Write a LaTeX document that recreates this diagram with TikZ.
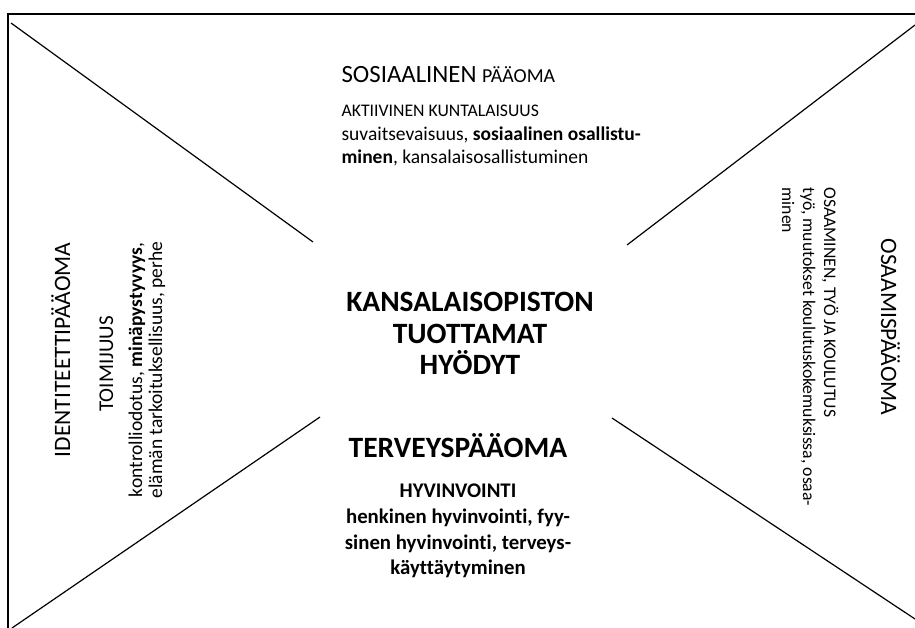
\documentclass[tikz,border=0pt]{standalone}
\usepackage{fontspec}
\setmainfont{Carlito}[Ligatures=NoCommon]
\usetikzlibrary{positioning}

\begin{document}
\begin{tikzpicture}[x=1pt, y=-1pt, line width=1.2pt,
  capital/.style={inner sep=0pt, font=\fontsize{24.8}{29}\selectfont},
  side/.style={inner sep=0pt, font=\fontsize{23.5}{28}\selectfont},
  small/.style={inner sep=0pt, font=\fontsize{17.7}{22}\selectfont},
  body/.style={inner sep=0pt, font=\fontsize{19.5}{23}\selectfont},
  title/.style={inner sep=0pt, font=\fontsize{29.5}{35}\selectfont\bfseries},
  health/.style={inner sep=0pt, font=\fontsize{20.8}{26}\selectfont\bfseries}]

  \useasboundingbox (0,0) rectangle (915,628);

  % frame
  \coordinate (frametr) at (915,14);
  \coordinate (frametl) at (8,14);
  \coordinate (framebl) at (8,628);
  \draw[line width=1.6pt] (frametr) -- (frametl) -- (framebl);

  % the four diagonals
  \coordinate (tlout) at (11,23);
  \coordinate (tlin) at (313,242);
  \coordinate (trout) at (915,25);
  \coordinate (trin) at (627,245);
  \coordinate (blout) at (12,628);
  \coordinate (blin) at (320,417);
  \coordinate (brout) at (915,619);
  \coordinate (brin) at (612,418);
  \draw (tlout) -- (tlin);
  \draw (trout) -- (trin);
  \draw (blout) -- (blin);
  \draw (brout) -- (brin);

  % top: social capital
  \node[capital, anchor=base west] (soshead) at (341,83) {SOSIAALINEN {\fontsize{19.8}{24}\selectfont P\"A\"AOMA}};
  \node[small, below=34pt of soshead.base west, anchor=base west] (aktiivinen) {AKTIIVINEN KUNTALAISUUS};
  \node[body, below=24pt of aktiivinen.base west, anchor=base west] (sosline1) {suvaitsevaisuus, \textbf{sosiaalinen osallistu-}};
  \node[body, below=23pt of sosline1.base west, anchor=base west] (sosline2) {\textbf{minen}, kansalaisosallistuminen};

  % centre
  \node[title, anchor=base] (benefits1) at (470,311) {KANSALAISOPISTON};
  \node[title, below=32pt of benefits1.base, anchor=base] (benefits2) {TUOTTAMAT};
  \node[title, below=31pt of benefits2.base, anchor=base] (benefits3) {HYÖDYT};

  % bottom: health capital
  \node[title, anchor=base] (healthhead) at (458,457) {TERVEYSPÄÄOMA};
  \node[health, below=40pt of healthhead.base, anchor=base] (hyvinvointi) {HYVINVOINTI};
  \node[health, below=26pt of hyvinvointi.base, anchor=base] (healthline1) {henkinen hyvinvointi, fyy-};
  \node[health, below=26pt of healthline1.base, anchor=base] (healthline2) {sinen hyvinvointi, terveys-};
  \node[health, below=25pt of healthline2.base, anchor=base] (healthline3) {käyttäytyminen};

  % left: identity capital
  \node[side, rotate=90, anchor=base] (idhead) at (70,350) {IDENTITEETTIPÄÄOMA};
  \node[inner sep=0pt, font=\fontsize{21}{26}\selectfont, rotate=90, anchor=base] (toimijuus) at (113,364) {TOIMIJUUS};
  \node[body, rotate=90, anchor=base] (idline1) at (142,370) {kontrolliodotus, \textbf{minäpystyvyys},};
  \node[body, right=20pt of idline1.base, rotate=90, anchor=base] (idline2) {elämän tarkoituksellisuus, perhe};

  % right: competence capital
  \node[side, rotate=-90, anchor=base] (osahead) at (881,327) {OSAAMISPÄÄOMA};
  \node[small, rotate=-90, anchor=base west] (osaline1) at (824,187) {OSAAMINEN, TYÖ JA KOULUTUS};
  \node[small, left=21pt of osaline1.base west, rotate=-90, anchor=base west] (osaline2) {työ, muutokset koulutuskokemuksissa, osaa-};
  \node[small, left=21pt of osaline2.base west, rotate=-90, anchor=base west] (osaline3) {minen};
\end{tikzpicture}
\end{document}
